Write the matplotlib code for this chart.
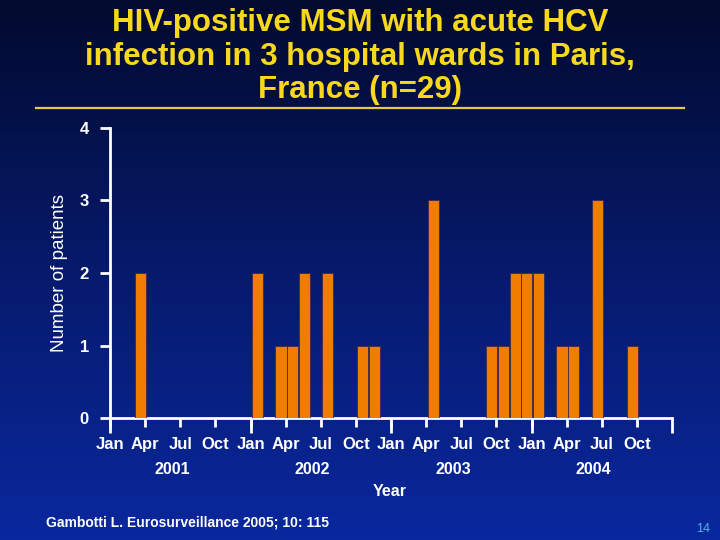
import numpy as np
import matplotlib.pyplot as plt
from matplotlib.colors import LinearSegmentedColormap
from matplotlib.ticker import FixedLocator
from matplotlib.transforms import blended_transform_factory

plt.rcParams['font.family'] = ['Liberation Sans', 'DejaVu Sans']

# month index counted from Jan 2001 (0) and number of patients in that month
months = [2, 12, 14, 15, 16, 18, 21, 22, 27, 32, 33, 34, 35, 36, 38, 39, 41, 44]
patients = [2, 2, 1, 1, 2, 2, 1, 1, 3, 1, 1, 2, 2, 2, 1, 1, 3, 1]
month_names = ['Jan', 'Apr', 'Jul', 'Oct'] * 4
years = ['2001', '2002', '2003', '2004']

title = 'HIV-positive MSM with acute HCV\ninfection in 3 hospital wards in Paris,\nFrance (n=29)'
source = 'Gambotti L. Eurosurveillance 2005; 10: 115'

fig = plt.figure(figsize=(7.2, 5.4), dpi=100)

# slide background gradient
bg = fig.add_axes([0, 0, 1, 1], zorder=-10)
grad = LinearSegmentedColormap.from_list('slide', ['#020a2e', '#061a6c', '#0a289e'])
bg.imshow(np.linspace(0, 1, 256).reshape(-1, 1), aspect='auto', cmap=grad,
          extent=[0, 1, 0, 1])
bg.axis('off')

fig.text(0.5, 0.895, title, ha='center', va='center', color='#f8d81c',
         fontsize=22.5, fontweight='bold', linespacing=1.16)
fig.add_artist(plt.Line2D([0.05, 0.95], [0.8, 0.8], color='#e8c840', lw=1.6))

ax = fig.add_axes([0.1528, 0.2259, 0.7806, 0.5371])
ax.patch.set_alpha(0)
ax.bar(np.array(months) + 0.6, patients, width=0.95, color='#f07c00',
       edgecolor='#3a2a50', linewidth=0.6, zorder=3)

ax.set_xlim(0, 48)
ax.set_ylim(0, 4)
for s in ['top', 'right']:
    ax.spines[s].set_visible(False)
for s in ['left', 'bottom']:
    ax.spines[s].set_color('white')
    ax.spines[s].set_linewidth(2)

ax.set_yticks([0, 1, 2, 3, 4])
ax.tick_params(axis='y', colors='white', length=7.2, width=2, pad=8,
               labelsize=12)
ax.set_xticks(np.arange(0, 48, 3))
ax.set_xticklabels(month_names)
ax.xaxis.set_minor_locator(FixedLocator(np.arange(0, 49, 12)))
ax.xaxis.remove_overlapping_locs = False
ax.tick_params(axis='x', which='major', colors='white', length=6.5, width=2,
               pad=7, labelsize=12)
ax.tick_params(axis='x', which='minor', colors='white', length=10.8, width=2)
for lbl in ax.get_xticklabels() + ax.get_yticklabels():
    lbl.set_fontweight('bold')

trans = blended_transform_factory(ax.transData, ax.transAxes)
for i, yr in enumerate(years):
    ax.text(12 * i + 5.3, -0.179, yr, transform=trans, ha='center', va='center',
            color='white', fontsize=11.5, fontweight='bold')
ax.text(0.498, -0.255, 'Year', transform=ax.transAxes, ha='center', va='center',
        color='white', fontsize=11.5, fontweight='bold')

ax.set_ylabel('Number of patients', color='white', fontsize=13.5)
ax.yaxis.set_label_coords(-0.074, 0.5)

fig.text(0.064, 0.033, source, ha='left', va='center', color='white',
         fontsize=10, fontweight='bold')
fig.text(0.977, 0.02, '14', ha='center', va='center', color='#50b4f0',
         fontsize=9)

fig.savefig('out.png', dpi=100)
